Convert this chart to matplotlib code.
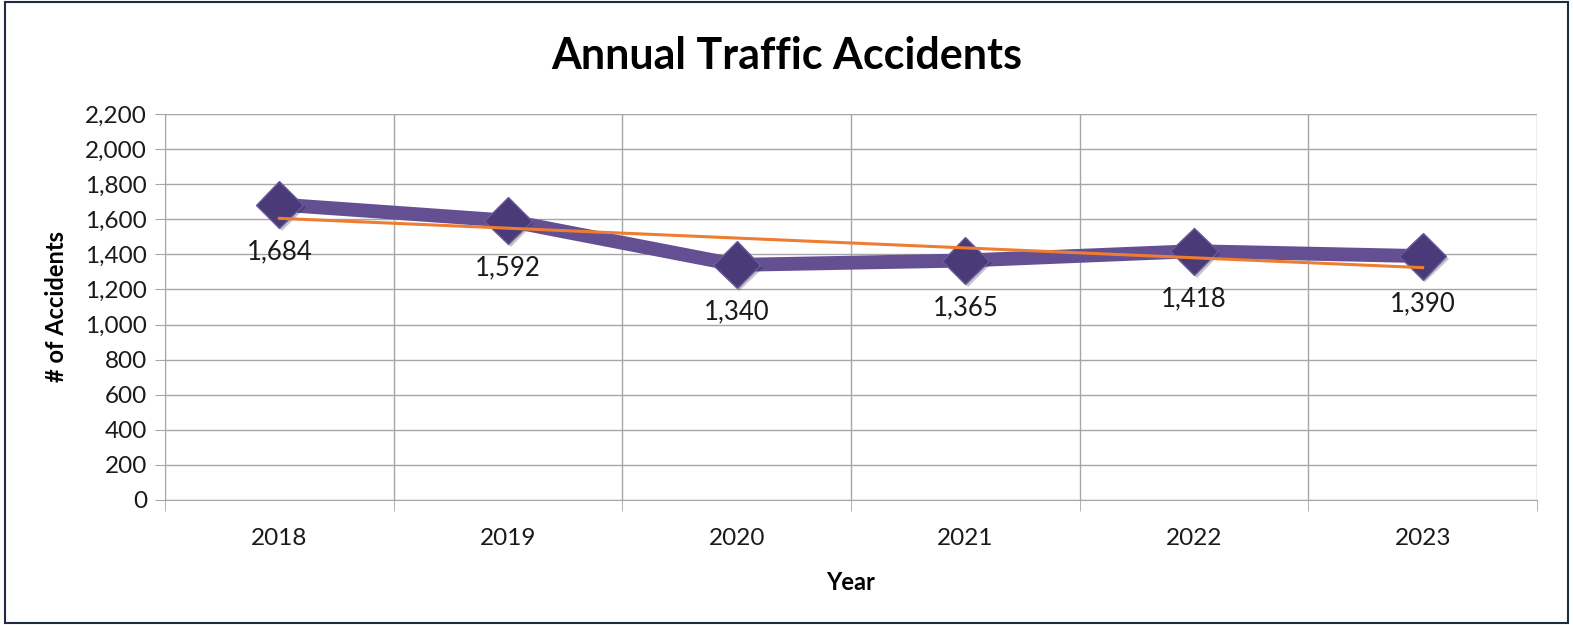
import numpy as np
import matplotlib
matplotlib.use("Agg")
import matplotlib.pyplot as plt
import matplotlib.patheffects as pe
from matplotlib.patches import Rectangle

plt.rcParams['font.family'] = ['Lato', 'DejaVu Sans']

years = ['2018', '2019', '2020', '2021', '2022', '2023']
accidents = [1684, 1592, 1340, 1365, 1418, 1390]
y_ticks = list(range(0, 2201, 200))

x = np.arange(len(years))
slope, icpt = np.polyfit(x, accidents, 1)  # linear trendline like Excel

fig = plt.figure(figsize=(15.73, 6.25), dpi=100)
ax = fig.add_axes([0.1049, 0.2, 0.8722, 0.6176])

shadow = [pe.SimplePatchShadow(offset=(2, -2), alpha=0.25), pe.Normal()]
ax.plot(x, accidents, color='#634f92', lw=10, solid_joinstyle='miter', zorder=3)
ax.plot(x, accidents, ls='none', marker='D', ms=24, mfc='#4b3a78', mec='#6a5a9a',
        mew=1, zorder=4, path_effects=shadow)
ax.plot(x, slope * x + icpt, color='#ed7d31', lw=2.2, zorder=5)

for xi, v in zip(x, accidents):
    ax.annotate(f'{v:,}', (xi, v), xytext=(0, -34), textcoords='offset points',
                ha='center', va='center', fontsize=18.5, color='#1a1a1a')

ax.set_xlim(-0.5, len(years) - 0.5)
ax.set_ylim(0, 2200)
ax.set_yticks(y_ticks)
ax.set_yticklabels([f'{t:,}' for t in y_ticks])
ax.set_xticks(x)
ax.set_xticklabels(years)
ax.set_xticks(np.arange(-0.5, len(years)), minor=True)

ax.grid(True, axis='y', color='#a6a6a6', lw=1)
ax.grid(True, axis='x', which='minor', color='#a6a6a6', lw=1)
ax.set_axisbelow(True)
for s in ['top', 'right']:
    ax.spines[s].set_visible(False)
ax.spines['left'].set_color('#a6a6a6')
ax.spines['bottom'].set_color('#a6a6a6')
ax.tick_params(axis='y', length=7, color='#a6a6a6', labelsize=17.5, pad=6, labelcolor='#1a1a1a')
ax.tick_params(axis='x', which='major', length=0, labelsize=17.5, pad=20, labelcolor='#1a1a1a')
ax.tick_params(axis='x', which='minor', length=8, color='#a6a6a6')

ax.set_xlabel('Year', fontsize=17, fontweight='bold', labelpad=16)
ax.set_ylabel('# of Accidents', fontsize=17, fontweight='bold', labelpad=12)
fig.text(0.5, 0.911, 'Annual Traffic Accidents', ha='center', va='center',
         fontsize=31, fontweight='bold', color='black')

fig.patches.append(Rectangle((0.003, 0.003), 0.994, 0.994, transform=fig.transFigure,
                             fill=False, edgecolor='#1f2a44', lw=1.5))

fig.savefig('out.png', dpi=100)
